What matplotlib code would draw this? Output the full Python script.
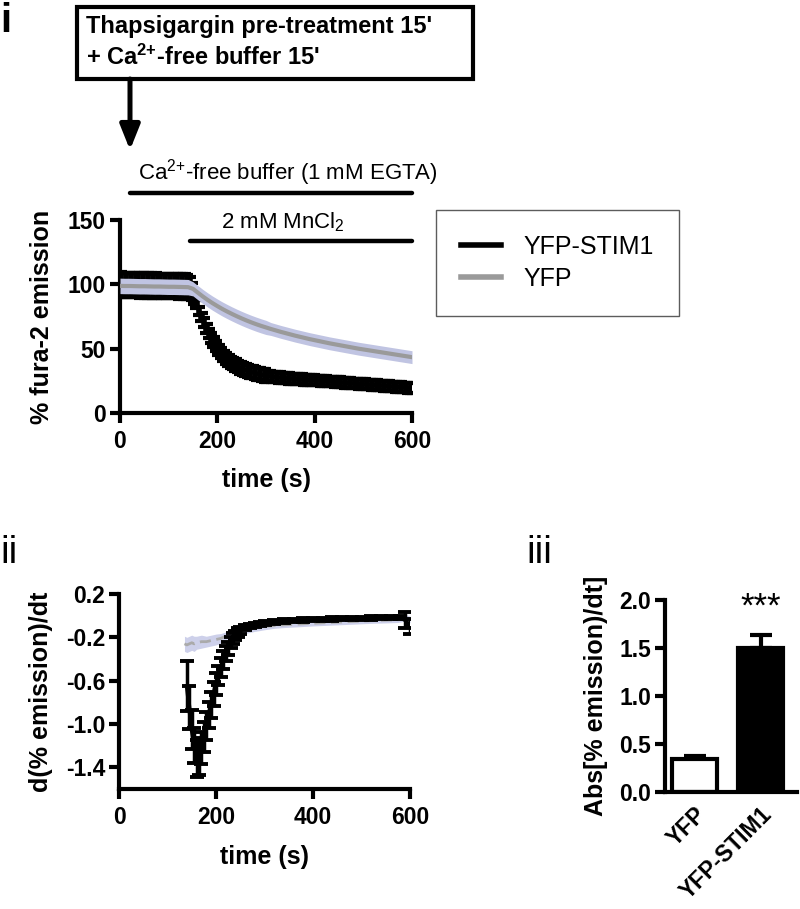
import numpy as np
import matplotlib
matplotlib.use('Agg')
import matplotlib.pyplot as plt
from matplotlib.patches import Rectangle
from matplotlib.lines import Line2D

# ---------------- data ----------------
# Panel i : % fura-2 emission vs time
t_stim = np.arange(0, 601, 5)
stim_mean = [99.6, 99.7, 99.5, 99.6, 99.4, 99.5, 99.3, 99.4, 99.2, 99.3,
             99.1, 99.2, 99.0, 99.1, 98.9, 99.0, 98.8, 98.9, 98.7, 98.8,
             98.6, 98.7, 98.5, 98.6, 98.4, 98.5, 98.3, 98.4, 98.0,
             96.5, 93.0, 88.5, 82.0, 77.0, 72.5, 68.0, 64.0, 60.0, 56.5, 53.3, 50.3,
             47.7, 45.4, 43.4, 41.7, 40.2, 38.9, 37.7, 36.6, 35.6, 34.7,
             33.9, 33.2, 32.5, 31.9, 31.3, 30.8, 30.3, 29.8, 29.4, 29.0,
             28.7, 28.4, 28.1, 27.9, 27.7, 27.5, 27.3, 27.1, 26.9, 26.8,
             26.6, 26.5, 26.3, 26.2, 26.0, 25.9, 25.8, 25.6, 25.5, 25.4,
             25.3, 25.1, 25.0, 24.8, 24.7, 24.5, 24.4, 24.2, 24.1, 23.9,
             23.8, 23.6, 23.5, 23.3, 23.2, 23.0, 22.9, 22.7, 22.6, 22.4,
             22.3, 22.1, 22.0, 21.8, 21.7, 21.5, 21.4, 21.2, 21.1, 20.9,
             20.8, 20.6, 20.5, 20.3, 20.2, 20.0, 19.9, 19.7, 19.6, 19.4]
stim_sem = [9.5, 9.5, 9.5, 9.5, 9.5, 9.5, 9.5, 9.5, 9.5, 9.5,
            9.5, 9.5, 9.5, 9.5, 9.5, 9.5, 9.5, 9.5, 9.5, 9.5,
            9.5, 9.5, 9.5, 9.5, 9.5, 9.5, 9.5, 9.5, 9.5,
            9.0, 8.0, 7.0, 5.5, 5.5, 5.5, 5.5, 5.5, 5.5, 5.5, 5.5, 5.5,
            5.0, 5.0, 5.0, 5.0, 5.0, 5.0, 5.0, 5.0, 5.0, 5.0,
            5.0, 5.0, 5.0, 5.0, 5.0, 5.0, 5.0, 5.0, 5.0, 5.0,
            4.0, 4.0, 4.0, 4.0, 4.0, 4.0, 4.0, 4.0, 4.0, 4.0,
            4.0, 4.0, 4.0, 4.0, 4.0, 4.0, 4.0, 4.0, 4.0, 4.0,
            3.8, 3.8, 3.8, 3.8, 3.8, 3.8, 3.8, 3.8, 3.8, 3.8,
            3.8, 3.8, 3.8, 3.8, 3.8, 3.8, 3.8, 3.8, 3.8, 3.8,
            3.8, 3.8, 3.8, 3.8, 3.8, 3.8, 3.8, 3.8, 3.8, 3.8,
            3.8, 3.8, 3.8, 3.8, 3.8, 3.8, 3.8, 3.8, 3.8, 3.8]

t_yfp = np.arange(0, 601, 10)
yfp_mean = [98.8, 98.7, 98.7, 98.6, 98.5, 98.5, 98.4, 98.3, 98.3, 98.2,
            98.1, 98.1, 98.0, 97.9, 97.8,
            96.5, 93.5, 90.6, 87.9, 85.4, 83.1, 80.9, 78.9, 77.0, 75.2,
            73.5, 71.9, 70.4, 69.0, 67.7, 66.5, 65.3, 64.2, 63.1, 62.1,
            61.1, 60.1, 59.2, 58.3, 57.4, 56.6, 55.8, 55.0, 54.2, 53.5,
            52.8, 52.1, 51.4, 50.7, 50.0, 49.4, 48.8, 48.2, 47.6, 47.0,
            46.4, 45.8, 45.2, 44.6, 44.0, 43.4]
yfp_sem = [6.0, 6.0, 6.0, 6.0, 6.0, 6.0, 6.0, 6.0, 6.0, 6.0,
           6.0, 6.0, 6.0, 6.0, 6.0,
           5.5, 5.5, 5.5, 5.5, 5.5, 5.5, 5.5, 5.5, 5.5, 5.5,
           5.5, 5.5, 5.5, 5.5, 5.5, 5.5, 5.0, 5.0, 5.0, 5.0,
           5.0, 5.0, 5.0, 5.0, 5.0, 5.0, 5.0, 5.0, 5.0, 5.0,
           5.0, 5.0, 5.0, 5.0, 5.0, 5.0, 5.0, 5.0, 5.0, 5.0,
           5.0, 5.0, 5.0, 5.0, 5.0, 5.0]

# Panel ii : derivative
t2_stim = [140, 145, 150, 155, 160, 165, 170, 175, 180, 185, 190, 195, 200,
           205, 210, 215, 220, 225, 230, 235, 240, 245, 250,
           260, 270, 280, 290, 300,
           320, 340, 360, 380, 400, 420, 440, 460, 480, 500, 520, 540, 560, 580,
           590, 600]
d_stim_mean = [-0.65, -0.85, -1.05, -1.20, -1.32, -1.30, -1.22, -1.12, -1.02, -0.92,
               -0.82, -0.72, -0.63, -0.55, -0.48, -0.41, -0.35, -0.30, -0.25, -0.21,
               -0.18, -0.155, -0.135,
               -0.11, -0.095, -0.085, -0.075, -0.068,
               -0.058, -0.050, -0.045, -0.040, -0.036, -0.033, -0.030, -0.028,
               -0.026, -0.024, -0.022, -0.020, -0.018, -0.016,
               -0.04, -0.10]
d_stim_sem = [0.23, 0.20, 0.18, 0.16, 0.17, 0.17, 0.15, 0.14, 0.13, 0.12,
              0.12, 0.11, 0.10, 0.09, 0.09, 0.08, 0.07, 0.06, 0.05, 0.05,
              0.04, 0.04, 0.03,
              0.025, 0.02, 0.02, 0.02, 0.02,
              0.015, 0.015, 0.015, 0.015, 0.015, 0.015, 0.015, 0.015,
              0.015, 0.015, 0.015, 0.015, 0.015, 0.015,
              0.07, 0.07]

t2_yfp = [135, 140, 145, 150, 155, 160, 170, 180, 190, 200, 210, 220, 230, 240,
          250, 260, 270, 280, 290, 300, 320, 340, 360, 380, 400, 425, 450, 475,
          500, 525, 550, 575, 590, 600]
d_yfp_mean = [-0.26, -0.27, -0.26, -0.25, -0.26, -0.25,
              -0.24, -0.24, -0.23, -0.22, -0.21, -0.19, -0.175, -0.16, -0.145, -0.135,
              -0.125, -0.115, -0.108, -0.10,
              -0.092, -0.085, -0.08, -0.075, -0.07,
              -0.065, -0.06, -0.055, -0.05, -0.045, -0.042, -0.038,
              -0.02, -0.035]
d_yfp_sem = [0.07, 0.07, 0.07, 0.07, 0.07, 0.06,
             0.06, 0.05, 0.05, 0.05, 0.045, 0.04, 0.035, 0.03, 0.03, 0.03,
             0.03, 0.03, 0.03, 0.03,
             0.025, 0.025, 0.025, 0.025, 0.025,
             0.025, 0.025, 0.025, 0.025, 0.025, 0.025, 0.025,
             0.03, 0.03]

# Panel iii : bar chart
bar_labels = ['YFP', 'YFP-STIM1']
bar_means = [0.34, 1.50]
bar_sems = [0.03, 0.14]

# ---------------- style ----------------
plt.rcParams['font.family'] = ['Liberation Sans', 'DejaVu Sans']
plt.rcParams['mathtext.fontset'] = 'custom'
plt.rcParams['mathtext.rm'] = 'Liberation Sans'
plt.rcParams['mathtext.it'] = 'Liberation Sans:italic'
plt.rcParams['mathtext.bf'] = 'Liberation Sans:bold'
plt.rcParams['mathtext.sf'] = 'Liberation Sans'
plt.rcParams['mathtext.default'] = 'regular'

W, H = 800, 909
fig = plt.figure(figsize=(W / 100, H / 100), dpi=100)


def fx(x):
    return x / W


def fy(y):
    return 1 - y / H


def rect(l, t, r, b):
    return [fx(l), fy(b), (r - l) / W, (b - t) / H]


SP_LW = 3.0
TICK_FS = 16.5
LAB_FS = 18
BLACK = '#000000'
LAV = '#c0c4e2'
GRAY = '#9a9a9a'


def style_axes(ax):
    for s in ['top', 'right']:
        ax.spines[s].set_visible(False)
    for s in ['left', 'bottom']:
        ax.spines[s].set_linewidth(SP_LW)
    ax.tick_params(width=SP_LW, length=7, labelsize=TICK_FS, direction='out', pad=3)
    for lab in ax.get_xticklabels() + ax.get_yticklabels():
        lab.set_fontweight('bold')


# ---------- Panel i ----------
ax1 = fig.add_axes(rect(120, 220, 412, 413))
ax1.errorbar(t_stim, stim_mean, yerr=stim_sem, color=BLACK, lw=3, elinewidth=2.6,
             capsize=3.5, capthick=3, zorder=2)
ym = np.array(yfp_mean)
ys = np.array(yfp_sem)
ax1.fill_between(t_yfp, ym - ys, ym + ys, color=LAV, lw=0, zorder=3)
ax1.plot(t_yfp, yfp_mean, color=GRAY, lw=3, zorder=4)
ax1.set_xlim(0, 600)
ax1.set_ylim(0, 150)
ax1.set_xticks([0, 200, 400, 600])
ax1.set_yticks([0, 50, 100, 150])
style_axes(ax1)
ax1.tick_params(axis='x', pad=5)
ax1.set_xlabel('time (s)', fontsize=LAB_FS, fontweight='bold')
ax1.xaxis.set_label_coords(0.5, -0.285)
ax1.set_ylabel('% fura-2 emission', fontsize=LAB_FS, fontweight='bold')
ax1.yaxis.set_label_coords(-0.225, 0.5)

# treatment bars
ax1.plot([20, 600], [171, 171], color=BLACK, lw=3.2, clip_on=False, solid_capstyle='round')
ax1.text(345, 186.5, r'$Ca^{2{+}}$-free buffer (1 mM EGTA)', ha='center', va='center',
         fontsize=16)
ax1.plot([144, 600], [133.7, 133.7], color=BLACK, lw=3.2, clip_on=False, solid_capstyle='round')
ax1.text(335, 148.4, r'2 mM MnCl$_2$', ha='center', va='center', fontsize=16)

# legend
handles = [Line2D([], [], color=BLACK, lw=4), Line2D([], [], color=GRAY, lw=4)]
leg = fig.legend(handles, ['YFP-STIM1', 'YFP'], loc='upper left',
                 bbox_to_anchor=(fx(436), fy(210)), bbox_transform=fig.transFigure,
                 borderaxespad=0, fontsize=18, frameon=True, fancybox=False,
                 handlelength=1.6, handletextpad=0.9, labelspacing=0.3,
                 borderpad=1.0)
leg.get_frame().set_edgecolor('#333333')
leg.get_frame().set_linewidth(1.0)

# top box with text and arrow
fig.add_artist(Rectangle((fx(77), fy(79)), (473 - 77) / W, (79 - 7) / H,
                         transform=fig.transFigure, fill=False, lw=3, ec=BLACK))
fig.text(fx(86), fy(27), "Thapsigargin pre-treatment 15'", fontsize=17,
         fontweight='bold', ha='left', va='center')
fig.text(fx(86), fy(57), r"+ $\mathbf{Ca^{2{+}}}$-free buffer 15'", fontsize=17,
         fontweight='bold', ha='left', va='center')
ax1.annotate('', xy=(130, H - 150), xytext=(130, H - 79), xycoords='figure pixels',
             textcoords='figure pixels', annotation_clip=False,
             arrowprops=dict(arrowstyle='-|>,head_length=0.75,head_width=0.3',
                             mutation_scale=20, lw=3.6, color=BLACK,
                             shrinkA=0, shrinkB=0))

# ---------- Panel ii ----------
ax2 = fig.add_axes(rect(119, 594, 410, 789))
dm = np.array(d_yfp_mean)
ds = np.array(d_yfp_sem)
ax2.fill_between(t2_yfp, dm - ds, dm + ds, color='#cdd0ea', lw=0, zorder=1)
ax2.plot(t2_yfp, d_yfp_mean, color='#aaaaaa', lw=2, ls=(0, (4, 2)), zorder=2)
ax2.errorbar(t2_stim, d_stim_mean, yerr=d_stim_sem, color=BLACK, lw=3, elinewidth=2.5,
             capsize=5, capthick=2.8, zorder=3)
ax2.set_xlim(0, 600)
ax2.set_ylim(-1.6, 0.2)
ax2.set_xticks([0, 200, 400, 600])
ax2.set_yticks([0.2, -0.2, -0.6, -1.0, -1.4])
ax2.set_yticklabels(['0.2', '-0.2', '-0.6', '-1.0', '-1.4'])
style_axes(ax2)
ax2.tick_params(axis='x', pad=5)
ax2.set_xlabel('time (s)', fontsize=LAB_FS, fontweight='bold')
ax2.xaxis.set_label_coords(0.5, -0.287)
ax2.set_ylabel('d(% emission)/dt', fontsize=LAB_FS, fontweight='bold')
ax2.yaxis.set_label_coords(-0.227, 0.5)

# ---------- Panel iii ----------
ax3 = fig.add_axes(rect(665, 600, 797, 792))
xpos = np.arange(len(bar_labels))
ax3.bar(xpos, bar_means, width=0.68, color=['white', BLACK], edgecolor=BLACK,
        linewidth=3, zorder=2)
ax3.errorbar(xpos, bar_means, yerr=[[0, 0], bar_sems], fmt='none', ecolor=BLACK,
             elinewidth=3, capsize=8, capthick=3, zorder=1)
ax3.set_xlim(-0.45, 1.55)
ax3.set_ylim(0, 2.0)
ax3.set_yticks([0.0, 0.5, 1.0, 1.5, 2.0])
ax3.set_yticklabels(['0.0', '0.5', '1.0', '1.5', '2.0'])
ax3.set_xticks(xpos)
ax3.set_xticklabels(bar_labels)
style_axes(ax3)
ax3.tick_params(axis='x', length=0, pad=8)
for lab in ax3.get_xticklabels():
    lab.set_rotation(45)
    lab.set_ha('right')
    lab.set_va('top')
    lab.set_rotation_mode('anchor')
ax3.set_ylabel('Abs[% emission)/dt]', fontsize=LAB_FS, fontweight='bold')
ax3.yaxis.set_label_coords(-0.43, 0.5)
ax3.text(1, 1.93, '***', ha='center', va='center', fontsize=25)

# ---------- panel labels ----------
fig.text(fx(0), fy(32), 'i', fontsize=29, fontweight='bold', ha='left', va='baseline')
fig.text(fx(0), fy(563), 'ii', fontsize=28, ha='left', va='baseline')
fig.text(fx(526), fy(563), 'iii', fontsize=28, ha='left', va='baseline')

fig.savefig('out.png', dpi=100)
